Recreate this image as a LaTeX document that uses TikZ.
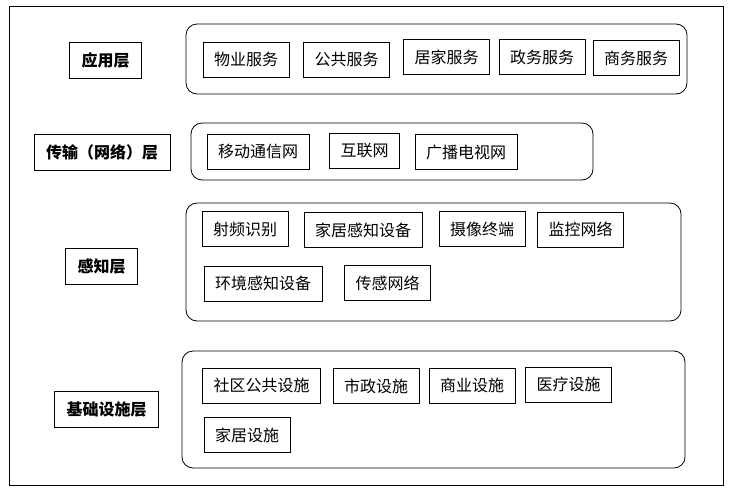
\documentclass[tikz,border=0pt]{standalone}
\usepackage{fontspec}
\setmainfont{Noto Sans CJK SC}
\usepackage{tikz}
\usetikzlibrary{positioning}

\begin{document}
\begin{tikzpicture}[x=1pt,y=-1pt,
layerbox/.style={draw,line width=0.8pt,inner xsep=12pt,inner ysep=0pt,minimum height=36pt,font=\fontsize{16}{16}\selectfont\bfseries},
itembox/.style={draw,line width=0.8pt,inner xsep=11pt,inner ysep=0pt,minimum height=35pt,font=\fontsize{16}{16}\selectfont},
groupbox/.style={draw,line width=0.8pt,rounded corners=11pt}
]
\useasboundingbox (0,0) rectangle (733,493);
\draw[line width=0.8pt] (9,6) rectangle (723,485);

% layers
\node[layerbox] (app) at (105.5,60.5) {应用层};
\node[layerbox] (net) at (102,152) {传输（网络）层};
\node[layerbox] (sense) at (101.5,266) {感知层};
\node[layerbox] (base) at (106.5,409) {基础设施层};

% groups
\draw[groupbox] (186,24) rectangle (687,94);
\draw[groupbox] (191,123) rectangle (593,180);
\draw[groupbox] (186,203) rectangle (681,321);
\draw[groupbox] (182,351) rectangle (685,468);

% application
\node[itembox] (app1) at (246,59.5) {物业服务};
\node[itembox] (app2) at (346.5,59.5) {公共服务};
\node[itembox] (app3) at (446.5,57) {居家服务};
\node[itembox] (app4) at (542,57) {政务服务};
\node[itembox] (app5) at (636,58) {商务服务};

% network
\node[itembox] (net1) at (258,151.5) {移动通信网};
\node[itembox] (net2) at (364.5,151) {互联网};
\node[itembox] (net3) at (466,152) {广播电视网};

% sensing
\node[itembox] (sense1) at (245,229) {射频识别};
\node[itembox] (sense2) at (363,230) {家居感知设备};
\node[itembox] (sense3) at (482,229) {摄像终端};
\node[itembox] (sense4) at (580.5,229.5) {监控网络};
\node[itembox] (sense5) at (263,283.5) {环境感知设备};
\node[itembox] (sense6) at (387.5,283) {传感网络};

% infrastructure
\node[itembox] (base1) at (261.5,385.5) {社区公共设施};
\node[itembox] (base2) at (376,386) {市政设施};
\node[itembox] (base3) at (472,385.5) {商业设施};
\node[itembox] (base4) at (568.5,384.5) {医疗设施};
\node[itembox] (base5) at (247,435) {家居设施};
\end{tikzpicture}
\end{document}
